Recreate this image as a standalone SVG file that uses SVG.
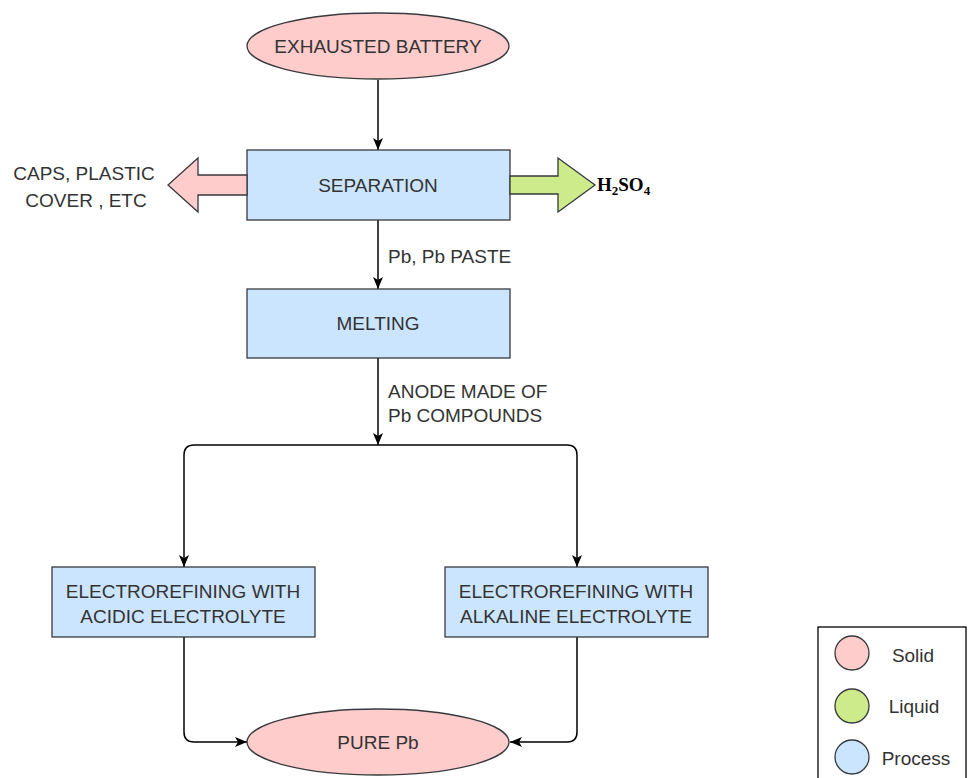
<svg xmlns="http://www.w3.org/2000/svg" width="969" height="778" viewBox="0 0 969 778">
<style>
  text { font-family: "Liberation Sans", Arial, sans-serif; font-size: 19px; fill: #333333; }
  .c { text-anchor: middle; }
  .solid { fill: #ffcccc; stroke: #36393d; stroke-width: 1.3; }
  .liquid { fill: #cdeb8b; stroke: #36393d; stroke-width: 1.3; }
  .proc { fill: #cce5ff; stroke: #36393d; stroke-width: 1.3; }
  .edge { fill: none; stroke: #000000; stroke-width: 1.5; }
  .chem { font-family: "Liberation Serif", "Times New Roman", serif; font-weight: bold; fill: #000000; font-size: 19px; }
</style>
<defs>
  <marker id="arr" viewBox="0 0 12 10" refX="12" refY="5" markerWidth="12" markerHeight="10" markerUnits="userSpaceOnUse" orient="auto">
    <path d="M0,0 L12,5 L0,10 L3,5 Z" fill="#000000"/>
  </marker>
</defs>

<g id="connectors">
  <path class="edge" d="M378,80 L378,150" marker-end="url(#arr)"/>
  <path class="edge" d="M378,220 L378,289" marker-end="url(#arr)"/>
  <path class="edge" d="M378,358 L378,445" marker-end="url(#arr)"/>
  <path class="edge" d="M378,445 L194,445 Q184,445 184,455 L184,567" marker-end="url(#arr)"/>
  <path class="edge" d="M378,445 L567,445 Q577,445 577,455 L577,567" marker-end="url(#arr)"/>
  <path class="edge" d="M184,637 L184,732 Q184,742 194,742 L247,742" marker-end="url(#arr)"/>
  <path class="edge" d="M577,637 L577,732 Q577,742 567,742 L510,742" marker-end="url(#arr)"/>
</g>

<g id="edge-labels">
  <text x="388" y="263">Pb, Pb PASTE</text>
  <text x="388" y="398">ANODE MADE OF</text>
  <text x="388" y="422">Pb COMPOUNDS</text>
</g>

<g id="exhausted-battery">
  <ellipse class="solid" cx="378" cy="46" rx="131" ry="33"/>
  <text class="c" x="378" y="53">EXHAUSTED BATTERY</text>
</g>

<g id="separation">
  <rect class="proc" x="247" y="150" width="263" height="70"/>
  <text class="c" x="378" y="192">SEPARATION</text>
</g>

<g id="solid-output">
  <path class="solid" d="M247,175 L198,175 L198,158 L168,185 L198,212 L198,195 L247,195 Z"/>
  <text class="c" x="84" y="180">CAPS, PLASTIC</text>
  <text class="c" x="86" y="207">COVER , ETC</text>
</g>

<g id="liquid-output">
  <path class="liquid" d="M510,176 L558,176 L558,158 L595,185 L558,212 L558,194 L510,194 Z"/>
  <text class="chem" x="597" y="191">H<tspan font-size="13" dy="4">2</tspan><tspan dy="-4">SO</tspan><tspan font-size="13" dy="4">4</tspan></text>
</g>

<g id="melting">
  <rect class="proc" x="247" y="289" width="263" height="69"/>
  <text class="c" x="378" y="330">MELTING</text>
</g>

<g id="acidic">
  <rect class="proc" x="52" y="567" width="263" height="70"/>
  <text class="c" x="183" y="598">ELECTROREFINING WITH</text>
  <text class="c" x="183" y="623">ACIDIC ELECTROLYTE</text>
</g>

<g id="alkaline">
  <rect class="proc" x="445" y="567" width="263" height="70"/>
  <text class="c" x="576" y="598">ELECTROREFINING WITH</text>
  <text class="c" x="576" y="623">ALKALINE ELECTROLYTE</text>
</g>

<g id="pure-pb">
  <ellipse class="solid" cx="378" cy="742" rx="131" ry="33"/>
  <text class="c" x="378" y="749">PURE Pb</text>
</g>

<g id="legend">
  <rect x="818" y="627" width="148" height="170" fill="#ffffff" stroke="#000000" stroke-width="1.3"/>
  <circle class="solid" cx="852" cy="653" r="17"/>
  <text class="c" x="913" y="662">Solid</text>
  <circle class="liquid" cx="852" cy="706" r="17"/>
  <text class="c" x="914" y="713">Liquid</text>
  <circle class="proc" cx="852" cy="757" r="17"/>
  <text class="c" x="916" y="765">Process</text>
</g>
</svg>
